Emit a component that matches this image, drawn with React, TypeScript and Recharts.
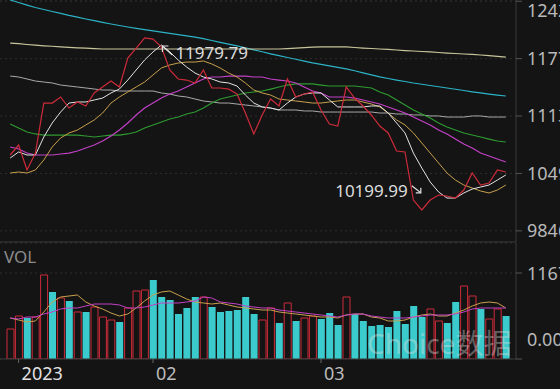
import React from "react";
import { ComposedChart, Line, Bar, Cell, XAxis, YAxis, CartesianGrid, ReferenceDot } from "recharts";

// trading days, 2022-12-30 .. 2023-03-31
const dates = [
  "2022-12-30",
  "2023-01-03", "2023-01-04", "2023-01-05", "2023-01-06", "2023-01-09", "2023-01-10", "2023-01-11", "2023-01-12",
  "2023-01-13", "2023-01-16", "2023-01-17", "2023-01-18", "2023-01-19", "2023-01-20", "2023-01-30", "2023-01-31",
  "2023-02-01", "2023-02-02", "2023-02-03", "2023-02-06", "2023-02-07", "2023-02-08", "2023-02-09", "2023-02-10",
  "2023-02-13", "2023-02-14", "2023-02-15", "2023-02-16", "2023-02-17", "2023-02-20", "2023-02-21", "2023-02-22",
  "2023-02-23", "2023-02-24", "2023-02-27", "2023-02-28",
  "2023-03-01", "2023-03-02", "2023-03-03", "2023-03-06", "2023-03-07", "2023-03-08", "2023-03-09", "2023-03-10",
  "2023-03-13", "2023-03-14", "2023-03-15", "2023-03-16", "2023-03-17", "2023-03-20", "2023-03-21", "2023-03-22",
  "2023-03-23", "2023-03-24", "2023-03-27", "2023-03-28", "2023-03-29", "2023-03-30", "2023-03-31",
];

const closes = [
  10697, 10809, 10529, 10719, 11280, 11280, 11348, 11224, 11292, 11247,
  11393, 11460, 11527, 11460, 11785, 11897, 12010, 11998, 11909, 11651,
  11550, 11538, 11505, 11651, 11449, 11449, 11437, 11381, 11168, 10933,
  11146, 11325, 11247, 11550, 11348, 11381, 11404, 11202, 11045, 11022,
  11460, 11336, 11247, 11146, 11022, 10944, 10742, 10731, 10192, 10080,
  10192, 10248, 10237, 10214, 10304, 10495, 10360, 10383, 10529, 10506,
];

const ma5 = [
  10663, 10731, 10697, 10697, 10899, 11056, 11179, 11280, 11292, 11292,
  11314, 11336, 11393, 11437, 11538, 11651, 11763, 11853, 11931, 11853,
  11763, 11684, 11617, 11572, 11550, 11516, 11505, 11471, 11370, 11280,
  11236, 11224, 11202, 11280, 11348, 11381, 11393, 11393, 11314, 11236,
  11236, 11236, 11236, 11247, 11247, 11168, 11056, 10944, 10719, 10551,
  10394, 10282, 10214, 10214, 10271, 10315, 10338, 10360, 10416, 10473,
];

const ma10 = [
  10495, 10506, 10495, 10529, 10641, 10787, 10888, 10944, 10977, 11034,
  11090, 11168, 11280, 11348, 11404, 11460, 11516, 11595, 11673, 11707,
  11729, 11740, 11740, 11752, 11718, 11673, 11617, 11572, 11505, 11426,
  11393, 11370, 11325, 11314, 11303, 11292, 11280, 11280, 11292, 11303,
  11314, 11314, 11292, 11269, 11236, 11168, 11090, 11034, 10944, 10832,
  10719, 10607, 10495, 10416, 10360, 10327, 10293, 10271, 10304, 10360,
];

const ma20 = [
  10787, 10764, 10719, 10697, 10697, 10697, 10708, 10719, 10742, 10775,
  10809, 10854, 10910, 10977, 11056, 11146, 11224, 11280, 11336, 11381,
  11415, 11460, 11505, 11550, 11572, 11572, 11583, 11583, 11583, 11572,
  11572, 11550, 11538, 11527, 11505, 11460, 11415, 11393, 11348, 11348,
  11348, 11336, 11314, 11292, 11269, 11236, 11202, 11168, 11123, 11078,
  11034, 10977, 10933, 10876, 10820, 10775, 10719, 10686, 10652, 10618,
];

const ma30 = [
  11045, 11000, 10955, 10933, 10921, 10921, 10921, 10921, 10921, 10910,
  10899, 10910, 10921, 10921, 10933, 10955, 11000, 11034, 11067, 11101,
  11123, 11157, 11179, 11224, 11280, 11325, 11348, 11370, 11393, 11404,
  11415, 11437, 11460, 11482, 11494, 11494, 11494, 11482, 11471, 11471,
  11471, 11471, 11460, 11449, 11404, 11370, 11314, 11258, 11202, 11157,
  11112, 11056, 11011, 10977, 10944, 10921, 10899, 10876, 10854, 10843,
];

const ma60 = [
  11583, 11572, 11550, 11527, 11516, 11505, 11482, 11471, 11460, 11449,
  11437, 11426, 11426, 11415, 11415, 11415, 11415, 11415, 11393, 11381,
  11359, 11348, 11325, 11303, 11292, 11280, 11280, 11269, 11258, 11247,
  11236, 11224, 11202, 11202, 11202, 11191, 11191, 11179, 11179, 11179,
  11179, 11179, 11179, 11179, 11168, 11168, 11157, 11157, 11146, 11146,
  11135, 11135, 11123, 11123, 11123, 11135, 11135, 11123, 11123, 11123,
];

const ma120 = [
  12436, 12408, 12379, 12352, 12329, 12307, 12286, 12263, 12243, 12223,
  12204, 12185, 12167, 12150, 12133, 12117, 12103, 12089, 12075, 12061,
  12048, 12033, 12019, 12002, 11982, 11961, 11941, 11921, 11900, 11877,
  11855, 11832, 11811, 11791, 11771, 11750, 11730, 11713, 11697, 11680,
  11664, 11642, 11619, 11596, 11573, 11555, 11538, 11522, 11505, 11491,
  11477, 11463, 11449, 11435, 11421, 11406, 11393, 11380, 11369, 11359,
];

const ma250 = [
  11953, 11946, 11937, 11929, 11922, 11917, 11911, 11905, 11900, 11895,
  11890, 11886, 11886, 11886, 11886, 11886, 11886, 11886, 11886, 11886,
  11886, 11886, 11886, 11886, 11886, 11886, 11886, 11886, 11886, 11886,
  11886, 11886, 11886, 11891, 11896, 11902, 11908, 11909, 11909, 11909,
  11909, 11903, 11897, 11892, 11886, 11881, 11875, 11869, 11864, 11858,
  11853, 11847, 11841, 11836, 11830, 11825, 11819, 11811, 11803, 11796,
];

const volumes = [
  4071000, 5835000, 5564000, 5699000, 11399000, 9092000, 8278000, 7870000, 6378000, 6378000,
  7056000, 5699000, 5292000, 5021000, 6921000, 9227000, 9363000, 10720000, 8413000, 8006000,
  6106000, 6921000, 8413000, 8413000, 7056000, 6378000, 6514000, 6649000, 8413000, 6106000,
  5292000, 6921000, 4885000, 7599000, 5157000, 5564000, 5835000, 5428000, 6242000, 4614000,
  8413000, 6106000, 5157000, 4478000, 4614000, 4342000, 6514000, 4749000, 7192000, 5699000,
  6785000, 5157000, 4885000, 7735000, 9906000, 8549000, 6785000, 5428000, 6785000, 5835000,
];

// 1 = close above open (hollow red), 0 = close below open (cyan)
const volUp = [
  1, 1, 0, 1, 1, 0, 1, 0, 1, 0,
  1, 1, 1, 0, 1, 1, 1, 0, 0, 0,
  0, 0, 0, 1, 0, 0, 0, 0, 0, 0,
  1, 1, 0, 1, 0, 1, 1, 0, 0, 0,
  1, 0, 0, 0, 0, 0, 0, 0, 0, 0,
  1, 1, 0, 0, 1, 1, 0, 1, 1, 0,
];

const volMa5 = [
  5564000, 5292000, 5021000, 5157000, 6378000, 7735000, 8413000, 8549000, 8685000, 7735000,
  7192000, 6785000, 6242000, 5835000, 6106000, 6921000, 7870000, 8685000, 9092000, 9227000,
  8685000, 8142000, 7735000, 7599000, 7463000, 7599000, 7328000, 7056000, 6921000, 6785000,
  6649000, 6649000, 6378000, 6242000, 6106000, 5971000, 5835000, 5699000, 5699000, 5564000,
  5971000, 6106000, 6106000, 5699000, 5564000, 5157000, 5157000, 5292000, 5699000, 5971000,
  6106000, 5835000, 5835000, 6242000, 6649000, 7192000, 7599000, 7735000, 7599000, 6921000,
];

const volMa10 = [
  5564000, 5428000, 5699000, 5699000, 6106000, 6378000, 6785000, 6921000, 6921000, 7192000,
  7463000, 7463000, 7463000, 7328000, 6921000, 6921000, 7056000, 7328000, 7599000, 7599000,
  7599000, 7735000, 7870000, 8413000, 8278000, 7735000, 7599000, 7463000, 7192000, 7056000,
  6921000, 6921000, 6649000, 6514000, 6378000, 6242000, 6106000, 5971000, 5835000, 5699000,
  5971000, 6106000, 6106000, 5835000, 5699000, 5564000, 5564000, 5564000, 5699000, 5835000,
  5971000, 5971000, 5971000, 6106000, 6378000, 6785000, 6921000, 6921000, 6921000, 6921000,
];

const priceTicks = [9846, 10490, 11134, 11778, 12422];
const volTicks = [0, 11670000];
const xTickDates = ["2023-01-03", "2023-02-01", "2023-03-01"];
const xTickLabels = ["2023", "02", "03"];

// extreme marks: where the arrow points, and the text shown
const markDates = ["2023-02-02", "2023-03-17"];
const markValues = [11931, 10262];
const markLabels = ["11979.79", "10199.99"];

const rows = dates.map((date, i) => ({
  date,
  close: closes[i],
  ma5: ma5[i],
  ma10: ma10[i],
  ma20: ma20[i],
  ma30: ma30[i],
  ma60: ma60[i],
  ma120: ma120[i],
  ma250: ma250[i],
  vol: volumes[i],
  up: volUp[i],
  volMa5: volMa5[i],
  volMa10: volMa10[i],
}));

const FONT = "'Noto Sans', 'Noto Sans CJK SC', sans-serif";
const BG = "#141414";
const RED = "#cc2b3a";
const CYAN = "#3ccbcc";
const TAN = "#c7a04c";
const MAGENTA = "#c241c6";
const AXIS = "#3a3a3a";
const LABEL = "#b8b8b8";

const HighMark = ({ cx, cy, text }: any) => (
  <g>
    <line x1={cx + 11} y1={cy + 10} x2={cx + 1} y2={cy + 1} stroke="#e0e0e0" strokeWidth={1.2} />
    <polyline points={`${cx + 1},${cy + 7} ${cx + 1},${cy + 1} ${cx + 7},${cy + 1}`} fill="none" stroke="#e0e0e0" strokeWidth={1.2} />
    <text x={cx + 14} y={cy + 7} fill="#dcdcdc" fontSize={17} fontFamily={FONT} dominantBaseline="central">{text}</text>
  </g>
);

const LowMark = ({ cx, cy, text }: any) => (
  <g>
    <line x1={cx - 10} y1={cy - 8} x2={cx - 1} y2={cy - 1} stroke="#e0e0e0" strokeWidth={1.2} />
    <polyline points={`${cx - 6},${cy - 1} ${cx - 1},${cy - 1} ${cx - 1},${cy - 6}`} fill="none" stroke="#e0e0e0" strokeWidth={1.2} />
    <text x={cx - 14} y={cy - 3} fill="#dcdcdc" fontSize={17} fontFamily={FONT} textAnchor="end" dominantBaseline="central">{text}</text>
  </g>
);

const VolTick = ({ x, y, payload }: any) => (
  <text x={x} y={payload.value === 0 ? y - 20 : y} fill={LABEL} fontSize={18} fontFamily={FONT} dominantBaseline="central">
    {payload.value === 0 ? "0.00" : String(payload.value)}
  </text>
);

const DateTick = ({ x, y, payload }: any) => {
  const i = xTickDates.indexOf(payload.value);
  return (
    <text x={x + 3} y={y + 8} fill={i === 0 ? "#e2e2e2" : "#bcbcbc"} fontSize={18} fontFamily={FONT} dominantBaseline="central">
      {xTickLabels[i]}
    </text>
  );
};

export default function App() {
  return (
    <div style={{ position: "fixed", left: 0, top: 0, width: 560, height: 389, background: BG, overflow: "hidden" }}>
      {/* price panel */}
      <div style={{ position: "absolute", left: 0, top: 0 }}>
        <ComposedChart width={560} height={243} data={rows} margin={{ top: 0, right: 0, bottom: 0, left: 0 }}>
          <CartesianGrid vertical={false} stroke="#2e2e2e" strokeDasharray="2 3" />
          <XAxis dataKey="date" scale="band" padding={{ left: 6, right: 6 }} tick={false} tickLine={false} height={1} axisLine={{ stroke: AXIS }} />
          <YAxis
            orientation="right"
            width={44}
            domain={[9721, 12436]}
            allowDataOverflow
            ticks={priceTicks}
            tickFormatter={(v: number) => v.toFixed(2)}
            tick={{ fill: LABEL, fontSize: 18, fontFamily: FONT, textAnchor: "start" }}
            tickSize={6}
            tickMargin={5}
            tickLine={{ stroke: "#555" }}
            axisLine={{ stroke: AXIS }}
          />
          <Line dataKey="ma120" stroke="#2cb3c6" strokeWidth={1.2} dot={false} activeDot={false} isAnimationActive={false} />
          <Line dataKey="ma250" stroke="#c9c59b" strokeWidth={1.2} dot={false} activeDot={false} isAnimationActive={false} />
          <Line dataKey="ma60" stroke="#a9a9a9" strokeWidth={1} dot={false} activeDot={false} isAnimationActive={false} />
          <Line dataKey="ma30" stroke="#2e9a31" strokeWidth={1.2} dot={false} activeDot={false} isAnimationActive={false} />
          <Line dataKey="ma20" stroke={MAGENTA} strokeWidth={1.2} dot={false} activeDot={false} isAnimationActive={false} />
          <Line dataKey="ma10" stroke={TAN} strokeWidth={1} dot={false} activeDot={false} isAnimationActive={false} />
          <Line dataKey="ma5" stroke="#e4e4e4" strokeWidth={1} dot={false} activeDot={false} isAnimationActive={false} />
          <Line dataKey="close" stroke={RED} strokeWidth={1.2} dot={false} activeDot={false} isAnimationActive={false} />
          <ReferenceDot x={markDates[0]} y={markValues[0]} shape={(p: any) => <HighMark {...p} text={markLabels[0]} />} />
          <ReferenceDot x={markDates[1]} y={markValues[1]} shape={(p: any) => <LowMark {...p} text={markLabels[1]} />} />
        </ComposedChart>
      </div>

      {/* volume panel */}
      <div style={{ position: "absolute", left: 0, top: 243 }}>
        <ComposedChart width={560} height={146} data={rows} margin={{ top: 0, right: 0, bottom: 0, left: 0 }}>
          <CartesianGrid vertical={false} stroke="#2e2e2e" strokeDasharray="2 3" />
          <XAxis
            dataKey="date"
            scale="band"
            padding={{ left: 6, right: 6 }}
            ticks={xTickDates}
            interval={0}
            tick={<DateTick />}
            tickSize={4}
            tickLine={{ stroke: "#666" }}
            axisLine={{ stroke: AXIS }}
            height={30}
          />
          <YAxis
            orientation="right"
            width={44}
            domain={[0, 15741000]}
            allowDataOverflow
            ticks={volTicks}
            tick={<VolTick />}
            tickSize={6}
            tickMargin={5}
            tickLine={{ stroke: "#555" }}
            axisLine={{ stroke: AXIS }}
          />
          <Bar dataKey="vol" barSize={7} isAnimationActive={false}>
            {rows.map((r, i) => (
              <Cell key={`v-${i}`} fill={r.up ? "none" : CYAN} stroke={r.up ? RED : "none"} strokeWidth={1} />
            ))}
          </Bar>
          <Line dataKey="volMa5" stroke={TAN} strokeWidth={1} dot={false} activeDot={false} isAnimationActive={false} />
          <Line dataKey="volMa10" stroke={MAGENTA} strokeWidth={1} dot={false} activeDot={false} isAnimationActive={false} />
        </ComposedChart>
      </div>

      <div style={{ position: "absolute", left: 4, top: 245, color: "#8c8c8c", fontSize: 17, fontFamily: FONT }}>VOL</div>
      <div
        style={{
          position: "absolute",
          left: 367,
          top: 322,
          color: "rgba(225,225,225,0.38)",
          fontSize: 28,
          fontFamily: FONT,
          pointerEvents: "none",
          whiteSpace: "nowrap",
        }}
      >
        Choice数据
      </div>
    </div>
  );
}
